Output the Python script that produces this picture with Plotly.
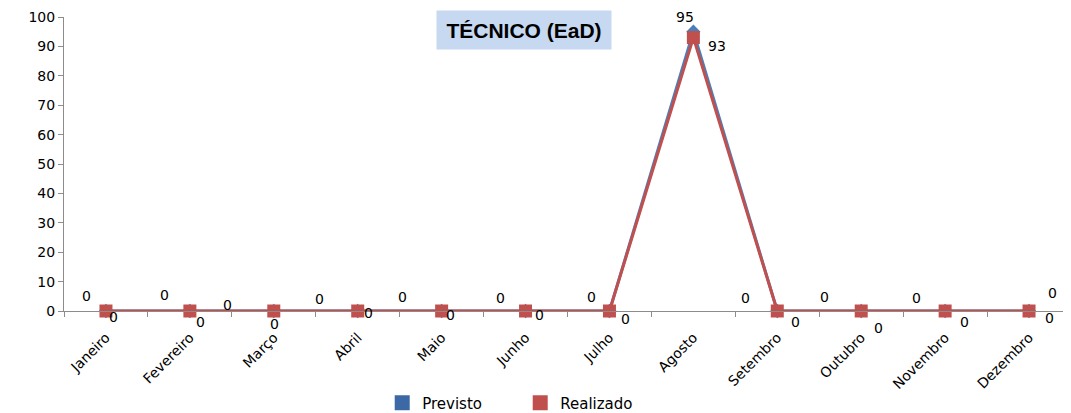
import plotly.graph_objects as go

meses = ["Janeiro", "Fevereiro", "Março", "Abril", "Maio", "Junho", "Julho",
         "Agosto", "Setembro", "Outubro", "Novembro", "Dezembro"]
previsto = [0, 0, 0, 0, 0, 0, 0, 95, 0, 0, 0, 0]
realizado = [0, 0, 0, 0, 0, 0, 0, 93, 0, 0, 0, 0]
y_ticks = [0, 10, 20, 30, 40, 50, 60, 70, 80, 90, 100]

# label offsets in pixels (styling only)
prev_dx = [-19, -25, -46, -38, -39, -25, -18, -8, -32, -37, -29, 23]
prev_dy = [15, 16, 6, 12, 14, 13, 14, 15, 13, 14, 13, 18]
real_dx = [8, 11, 1, 11, 9, 14, 16, 24, 18, 17, 19, 20]
real_dy = [-6, -11, -13, -2, -4, -4, -8, -8, -11, -17, -11, -7]

BLUE = "#4a7ebb"
RED = "#c0504d"
FONT = "DejaVu Sans"

fig = go.Figure()
fig.add_trace(go.Scatter(x=meses, y=previsto, mode="lines+markers", name="Previsto",
                         line=dict(color=BLUE, width=3),
                         marker=dict(symbol="diamond", size=11, color=BLUE),
                         showlegend=False, cliponaxis=False))
fig.add_trace(go.Scatter(x=meses, y=realizado, mode="lines+markers", name="Realizado",
                         line=dict(color=RED, width=3),
                         marker=dict(symbol="square", size=13, color=RED),
                         showlegend=False, cliponaxis=False))
# legend entries (square swatches)
fig.add_trace(go.Scatter(x=[None], y=[None], mode="markers", name="Previsto",
                         marker=dict(symbol="square", size=15, color="#3c69a6")))
fig.add_trace(go.Scatter(x=[None], y=[None], mode="markers", name="Realizado",
                         marker=dict(symbol="square", size=15, color=RED)))

annotations = []
for i, m in enumerate(meses):
    annotations.append(dict(x=m, y=previsto[i], text=str(previsto[i]), showarrow=False,
                            xshift=prev_dx[i], yshift=prev_dy[i],
                            font=dict(family=FONT, size=14, color="#000")))
    annotations.append(dict(x=m, y=realizado[i], text=str(realizado[i]), showarrow=False,
                            xshift=real_dx[i], yshift=real_dy[i],
                            font=dict(family=FONT, size=14, color="#000")))
annotations.append(dict(xref="paper", yref="paper", x=0.457, y=0.956,
                        xanchor="center", yanchor="middle",
                        text="<b>TÉCNICO (EaD)</b>", showarrow=False,
                        bgcolor="#c6d9f1", width=172, height=36,
                        font=dict(family="Liberation Sans", size=21, color="#000")))

# page body has an 8px margin: figure is sized to fit the 1071x413 window
fig.update_layout(
    width=1063, height=405,
    margin=dict(l=56, r=0, t=9, b=102, autoexpand=False),
    paper_bgcolor="white", plot_bgcolor="white",
    font=dict(family=FONT, size=13, color="#000"),
    annotations=annotations,
    legend=dict(orientation="h", xanchor="left", yanchor="middle",
                x=0.316, y=-0.313, font=dict(family=FONT, size=15),
                itemwidth=30, entrywidth=93, traceorder="normal"),
)
fig.update_xaxes(type="category", range=[-0.5, 11.5], showline=True, linecolor="#8c8c8c",
                 linewidth=1, ticks="outside", tickson="boundaries", ticklen=5,
                 tickcolor="#8c8c8c", tickangle=-45, showgrid=False, zeroline=False,
                 automargin=False, ticklabelstandoff=12,
                 tickfont=dict(family=FONT, size=14))
fig.update_yaxes(range=[0, 100], tickvals=y_ticks, showline=True, linecolor="#8c8c8c",
                 linewidth=1, ticks="outside", ticklen=5, tickcolor="#8c8c8c",
                 showgrid=False, zeroline=False, automargin=False,
                 tickfont=dict(family=FONT, size=14))

fig.write_html("out.html")
